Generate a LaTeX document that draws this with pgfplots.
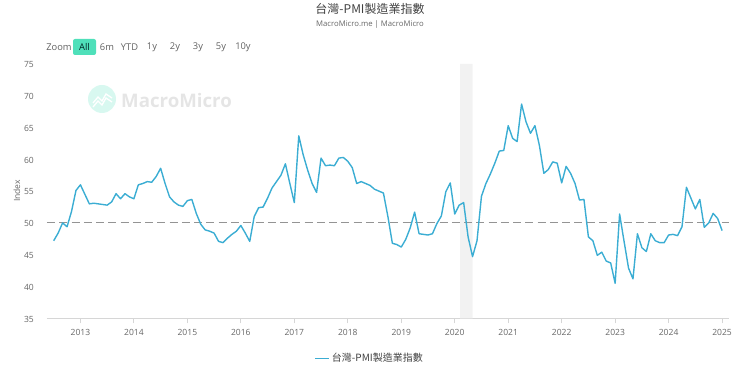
\documentclass[border=0pt]{standalone}
\usepackage{pgfplots}
\pgfplotsset{compat=1.18}
\usepackage{fontspec}
\setmainfont{Open Sans}
\newfontfamily\cjk{Noto Sans CJK TC}
\definecolor{ln}{HTML}{3BADD3}
\definecolor{gr}{HTML}{EEEEEE}
\definecolor{tx}{HTML}{666666}
\definecolor{tl}{HTML}{4FE0BA}
\begin{document}
\begin{tikzpicture}[x=0.75pt,y=0.75pt]
\useasboundingbox (0,0) rectangle (740,377);
\node[text=black!75!white,font=\cjk\fontsize{9}{11}\selectfont] at (370,368) {台灣-PMI製造業指數};
\node[text=tx,font=\fontsize{5.8}{8}\selectfont] at (370,352) {MacroMicro.me | MacroMicro};
\node[text=black!62,font=\fontsize{7}{9}\selectfont] at (59,330) {Zoom};
\fill[tl,rounded corners=1.5pt] (73,322) rectangle (96,338);
\node[text=black!70!teal,font=\fontsize{7}{9}\selectfont] at (84.5,330) {All};
\foreach \x/\t in {107/6m,129.5/YTD,152/1y,175/2y,198/3y,221/5y,243/10y}
  \node[text=black!62,font=\fontsize{7}{9}\selectfont] at (\x,330) {\t};
\fill[tl!22!white] (102,278) circle (14);
\draw[white,line width=1pt] (93,274) -- (98,280) -- (102,276) -- (106,283) -- (112,279);
\draw[white,line width=1pt] (93,270) -- (98,276) -- (102,272) -- (106,279) -- (112,275);
\node[text=black!10,font=\fontsize{14}{16}\selectfont\bfseries,anchor=west] at (116.5,276.5) {MacroMicro};
\begin{axis}[
  at={(47*0.75pt,58.7*0.75pt)},anchor=south west,
  scale only axis,width=682*0.75pt,height=254.3*0.75pt,
  xmin=-1.5,xmax=151.55,ymin=35,ymax=75,
  xtick={6,18,30,42,54,66,78,90,102,114,126,138,150},
  xticklabels={2013,2014,2015,2016,2017,2018,2019,2020,2021,2022,2023,2024,2025},
  ytick={35,40,...,75},
  /pgf/number format/assume math mode=true,
  tick label style={text=tx,font=\fontsize{6.4}{8}\selectfont},
  ymajorgrids,grid style={gr,line width=0.9pt},
  axis x line=bottom,axis y line=none,
  axis line style={draw=gr!90!black,-,line width=0.6pt},
  major x tick style={draw=gr!90!black,line width=0.6pt},
  x tick label style={yshift=-1pt},
  xtick align=outside,major tick length=3.8pt,
  clip=false,
  legend style={at={(370*0.75pt-47*0.75pt,-40*0.75pt)},anchor=center,draw=none,fill=none,font=\cjk\fontsize{7.5}{9}\selectfont,text=black!75!white,inner sep=0pt,
    /tikz/every even column/.append style={column sep=2pt}},
  legend image code/.code={\draw[#1,line width=1.1pt] (0pt,0pt) -- (10pt,0pt);},
  legend cell align=left,
]
\addplot[forget plot,fill=black!5,draw=none] coordinates {(91.2,35) (94,35) (94,75) (91.2,75)} \closedcycle;
\addplot[forget plot,draw=black!42,dash pattern=on 6pt off 3.2pt,line width=0.85pt] coordinates {(-1.5,50) (151.55,50)};
\addplot[ln,line width=1.05pt,line join=round] table[row sep=\\] {
x y\\
0 47.2\\ 1 48.4\\ 2 50.0\\ 3 49.4\\ 4 51.8\\ 5 55.1\\ 6 56.0\\ 7 54.5\\ 8 53.0\\ 9 53.1\\
10 53.0\\ 11 52.9\\ 12 52.8\\ 13 53.3\\ 14 54.6\\ 15 53.8\\ 16 54.6\\ 17 54.1\\ 18 53.8\\ 19 56.0\\
20 56.2\\ 21 56.5\\ 22 56.4\\ 23 57.3\\ 24 58.6\\ 25 56.2\\ 26 54.1\\ 27 53.3\\ 28 52.8\\ 29 52.6\\
30 53.5\\ 31 53.7\\ 32 51.5\\ 33 49.8\\ 34 48.9\\ 35 48.7\\ 36 48.4\\ 37 47.1\\ 38 46.9\\ 39 47.6\\
40 48.2\\ 41 48.7\\ 42 49.6\\ 43 48.4\\ 44 47.1\\ 45 51.0\\ 46 52.4\\ 47 52.5\\ 48 53.9\\ 49 55.5\\
50 56.5\\ 51 57.5\\ 52 59.3\\ 53 56.2\\ 54 53.2\\ 55 63.7\\ 56 60.7\\ 57 58.3\\ 58 56.2\\ 59 54.8\\
60 60.2\\ 61 59.0\\ 62 59.1\\ 63 59.0\\ 64 60.2\\ 65 60.3\\ 66 59.7\\ 67 58.7\\ 68 56.2\\ 69 56.5\\
70 56.2\\ 71 55.9\\ 72 55.3\\ 73 55.0\\ 74 54.7\\ 75 51.0\\ 76 46.8\\ 77 46.6\\ 78 46.2\\ 79 47.4\\
80 49.2\\ 81 51.7\\ 82 48.3\\ 83 48.2\\ 84 48.1\\ 85 48.3\\ 86 49.9\\ 87 51.1\\ 88 54.9\\ 89 56.3\\
90 51.4\\ 91 52.8\\ 92 53.2\\ 93 47.8\\ 94 44.7\\ 95 47.2\\ 96 54.2\\ 97 56.2\\ 98 57.7\\ 99 59.4\\
100 61.3\\ 101 61.4\\ 102 65.3\\ 103 63.3\\ 104 62.8\\ 105 68.7\\ 106 65.9\\ 107 64.1\\ 108 65.3\\ 109 62.2\\
110 57.8\\ 111 58.4\\ 112 59.6\\ 113 59.4\\ 114 56.3\\ 115 58.9\\ 116 57.8\\ 117 56.2\\ 118 53.6\\ 119 53.7\\
120 47.8\\ 121 47.2\\ 122 44.9\\ 123 45.4\\ 124 44.0\\ 125 43.7\\ 126 40.5\\ 127 51.4\\ 128 47.1\\ 129 42.9\\
130 41.2\\ 131 48.3\\ 132 46.1\\ 133 45.5\\ 134 48.3\\ 135 47.2\\ 136 46.9\\ 137 46.9\\ 138 48.1\\ 139 48.2\\
140 48.0\\ 141 49.4\\ 142 55.6\\ 143 53.9\\ 144 52.2\\ 145 53.7\\ 146 49.3\\ 147 50.0\\ 148 51.5\\ 149 50.7\\
150 48.8\\
};
\addlegendentry{台灣-PMI製造業指數}
\end{axis}
\foreach \v/\yy in {35/58,40/89.8,45/121.6,50/153.3,55/185.1,60/216.9,65/248.7,70/280.5,75/312.3}
  \node[text=tx,font=\fontsize{6.4}{8}\selectfont,anchor=east] at (38.5,\yy) {\v};
\node[text=tx,font=\fontsize{6.4}{8}\selectfont,rotate=90] at (17,186) {Index};
\end{tikzpicture}
\end{document}
